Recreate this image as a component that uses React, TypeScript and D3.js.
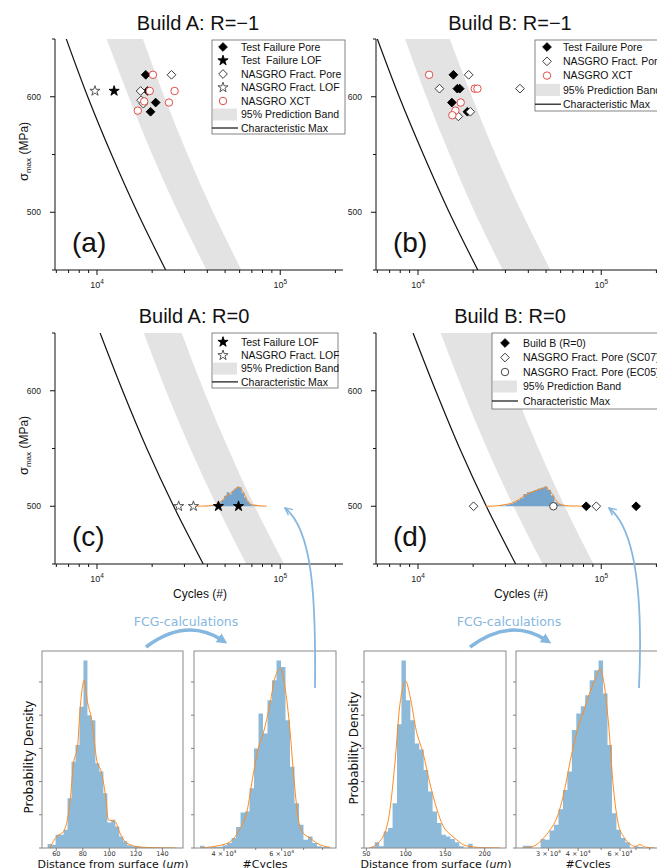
import React, { useEffect, useRef } from 'react';
import * as d3 from 'd3';

// stress levels at which bands / characteristic curves were read
const sigmaLevels = [650, 600, 550, 500, 450];

// Build A, R=-1
const bandLowA1 = [11300, 14900, 20000, 27700, 39600];
const bandHighA1 = [17800, 23300, 31200, 43000, 61400];
const charMaxA1 = [6800, 8900, 12000, 16600, 23700];
const testPoreA1 = [[18450, 619], [18900, 605], [20900, 595], [19600, 587]];
const testLofA1 = [[12400, 605]];
const nasgroPoreA1 = [[25500, 619], [17300, 605], [17400, 597], [17900, 594]];
const nasgroLofA1 = [[9750, 605]];
const xctA1 = [[20200, 619], [19400, 605], [26500, 605], [18100, 596], [24700, 595], [16700, 588]];

// Build B, R=-1
const bandLowB1 = [8500, 11100, 14900, 20400, 29000];
const bandHighB1 = [14900, 19700, 26500, 36800, 52800];
const charMaxB1 = [6000, 7900, 10700, 14800, 21200];
const testPoreB1 = [[15600, 619], [16400, 607], [16900, 607], [15300, 595], [18600, 587]];
const nasgroPoreB1 = [[18900, 619], [13100, 607], [36000, 607], [19300, 587], [16600, 583]];
const xctB1 = [[11500, 619], [20400, 607], [21100, 607], [17100, 595], [16000, 588], [15400, 584]];

// Build A, R=0
const bandLowA0 = [18000, 23800, 32300, 45200, 65300];
const bandHighA0 = [29000, 38300, 52000, 72500, 105000];
const charMaxA0 = [10400, 13800, 18700, 26200, 38000];
const testLofA0 = [[46000, 500], [59200, 500]];
const nasgroLofA0 = [[27900, 500], [33600, 500]];

// Build B, R=0
const bandLowB0 = [13300, 17600, 23800, 33200, 47900];
const bandHighB0 = [25600, 33700, 45400, 63100, 90600];
const charMaxB0 = [9400, 12500, 16900, 23600, 34100];
const buildB0 = [[82800, 500], [155000, 500]];
const nasgroSC07 = [[20100, 500], [94000, 500]];
const nasgroEC05 = [[54800, 500]];

// histograms (relative density), distance from surface in um, cycles binned in log10
const distA_start = 53.5;
const distA_width = 3;
const distA_counts = [12, 10, 40, 40, 55, 150, 260, 310, 425, 565, 400, 385, 255, 230, 165, 77, 85, 65, 35, 20, 8, 5, 6, 3, 2, 1, 1, 1, 0, 0, 1, 0, 1];
const distA_kdeX = [55, 60.5, 65.5, 70.5, 73, 76, 78, 81, 83.5, 86.75, 90.5, 94.25, 97.5, 99.25, 104.25, 108, 113, 123, 135, 150];
const distA_kdeY = [0, 35, 50, 145, 255, 305, 420, 505, 440, 385, 265, 225, 145, 85, 80, 45, 15, 3, 1, 0];

const cycA_logStart = 4.529;
const cycA_logWidth = 0.01373;
const cycA_counts = [7, 2, 2, 3, 4, 8, 15, 30, 63, 107, 110, 180, 300, 405, 345, 445, 505, 565, 545, 385, 245, 135, 70, 25, 35, 15, 5, 3, 2];
const cycA_kdeX = [33800, 40700, 44700, 46900, 49200, 50900, 52700, 55300, 57300, 59600, 61400, 63600, 65200, 67500, 69800, 73300, 76700, 84300];
const cycA_kdeY = [0, 13, 57, 105, 225, 300, 345, 435, 515, 540, 485, 355, 225, 85, 45, 30, 15, 2];

const distB_start = 55;
const distB_width = 5.64;
const distB_counts = [3, 17, 5, 50, 60, 135, 373, 565, 445, 385, 315, 297, 235, 170, 110, 75, 40, 35, 27, 17, 5, 0, 13];
const distB_kdeX = [53.4, 66.9, 77.5, 86, 92.4, 100, 105.1, 113.6, 122, 130.5, 139, 147.5, 155.9, 164.4, 172.9, 185.6, 198.3, 219.5];
const distB_kdeY = [0, 20, 80, 250, 430, 502, 460, 350, 285, 195, 120, 65, 42, 25, 10, 3, 1, 0];

const cycB_logStart = 4.369;
const cycB_logWidth = 0.01877;
const cycB_counts = [7, 7, 0, 0, 27, 25, 53, 70, 117, 175, 230, 355, 405, 427, 460, 505, 535, 565, 465, 310, 105, 55, 30, 17, 0, 5, 3];
const cycB_kdeX = [23400, 25900, 28600, 30500, 32500, 34700, 37000, 39500, 42100, 44900, 47900, 49400, 51000, 53600, 56300, 59100, 62000, 66100, 69400, 72800, 76400, 84200];
const cycB_kdeY = [0, 5, 30, 55, 90, 160, 260, 350, 410, 470, 520, 540, 510, 380, 180, 70, 35, 12, 5, 10, 3, 0];

const FONT = "'Liberation Sans', Arial, sans-serif";
const HFONT = "'DejaVu Sans', sans-serif";
const BAND = '#e3e3e3';
const HIST_BLUE = '#8ebad9';
const DIST_BLUE = '#74a3cb';
const ORANGE = '#ff8a1e';
const ARROW_BLUE = '#86b7df';
const RED = '#dd3a36';

// S-N panel frame (relative to panel origin)
const PL = 55, PR = 343, PT = 39, PB = 270;
const distHeight = 17; // MPa above the 500 MPa line for the tallest bin

const markerStyles = {
  diamondFilled: { shape: d3.symbolSquare, size: 38, rot: true, fill: '#000', stroke: '#000' },
  diamondOpen: { shape: d3.symbolSquare, size: 38, rot: true, fill: '#fff', stroke: '#333' },
  starFilled: { shape: d3.symbolStar, size: 32, rot: false, fill: '#000', stroke: '#000' },
  starOpen: { shape: d3.symbolStar, size: 32, rot: false, fill: '#fff', stroke: '#444' },
  circleRed: { shape: d3.symbolCircle, size: 44, rot: false, fill: '#fff', stroke: RED },
  circleOpen: { shape: d3.symbolCircle, size: 44, rot: false, fill: '#fff', stroke: '#333' },
};

function drawSymbol(sel, type, cx, cy) {
  const st = markerStyles[type];
  sel.append('path')
    .attr('d', d3.symbol(st.shape, st.size)())
    .attr('transform', `translate(${cx},${cy})${st.rot ? ' rotate(45)' : ''}`)
    .attr('fill', st.fill)
    .attr('stroke', st.stroke)
    .attr('stroke-width', 0.9);
}

const makeBins = (start, width, counts, log) =>
  counts.map((c, i) => ({
    a: log ? Math.pow(10, start + i * width) : start + i * width,
    b: log ? Math.pow(10, start + (i + 1) * width) : start + (i + 1) * width,
    c,
  }));

const panels = [
  {
    id: 'a', dx: 0, dy: 0, title: 'Build A: R=\u22121', titleX: 198, titleY: 30, tag: '(a)',
    yLabel: true, xLabel: false,
    low: bandLowA1, high: bandHighA1, charMax: charMaxA1,
    series: [
      { pts: testPoreA1, type: 'diamondFilled' },
      { pts: testLofA1, type: 'starFilled' },
      { pts: nasgroPoreA1, type: 'diamondOpen' },
      { pts: nasgroLofA1, type: 'starOpen' },
      { pts: xctA1, type: 'circleRed' },
    ],
    legend: {
      x: 212, y: 40, w: 133, h: 94, row0: 47, step: 13.5, symX: 223, textX: 241,
      items: [
        ['diamondFilled', 'Test Failure Pore'], ['starFilled', 'Test  Failure LOF'],
        ['diamondOpen', 'NASGRO Fract. Pore'], ['starOpen', 'NASGRO Fract. LOF'],
        ['circleRed', 'NASGRO XCT'], ['band', '95% Prediction Band'], ['line', 'Characteristic Max'],
      ],
    },
  },
  {
    id: 'b', dx: 321, dy: 0, title: 'Build B: R=\u22121', titleX: 189, titleY: 30, tag: '(b)',
    yLabel: false, xLabel: false,
    low: bandLowB1, high: bandHighB1, charMax: charMaxB1,
    series: [
      { pts: testPoreB1, type: 'diamondFilled' },
      { pts: nasgroPoreB1, type: 'diamondOpen' },
      { pts: xctB1, type: 'circleRed' },
    ],
    legend: {
      x: 214, y: 40, w: 200, h: 71, row0: 47, step: 14.3, symX: 226, textX: 242,
      items: [
        ['diamondFilled', 'Test Failure Pore'], ['diamondOpen', 'NASGRO Fract. Pore'],
        ['circleRed', 'NASGRO XCT'], ['band', '95% Prediction Band'], ['line', 'Characteristic Max'],
      ],
    },
  },
  {
    id: 'c', dx: 0, dy: 294, title: 'Build A: R=0', titleX: 194, titleY: 29, tag: '(c)',
    yLabel: true, xLabel: true,
    low: bandLowA0, high: bandHighA0, charMax: charMaxA0,
    dist: { bins: makeBins(cycA_logStart, cycA_logWidth, cycA_counts, true), kdeX: cycA_kdeX, kdeY: cycA_kdeY },
    series: [
      { pts: nasgroLofA0, type: 'starOpen' },
      { pts: testLofA0, type: 'starFilled' },
    ],
    legend: {
      x: 212, y: 39, w: 126, h: 55, row0: 48, step: 13.3, symX: 223, textX: 241,
      items: [
        ['starFilled', 'Test Failure LOF'], ['starOpen', 'NASGRO Fract. LOF'],
        ['band', '95% Prediction Band'], ['line', 'Characteristic Max'],
      ],
    },
  },
  {
    id: 'd', dx: 321, dy: 294, title: 'Build B: R=0', titleX: 189, titleY: 29, tag: '(d)',
    yLabel: false, xLabel: true,
    low: bandLowB0, high: bandHighB0, charMax: charMaxB0,
    dist: { bins: makeBins(cycB_logStart, cycB_logWidth, cycB_counts, true), kdeX: cycB_kdeX, kdeY: cycB_kdeY },
    series: [
      { pts: nasgroSC07, type: 'diamondOpen' },
      { pts: nasgroEC05, type: 'circleOpen' },
      { pts: buildB0, type: 'diamondFilled' },
    ],
    legend: {
      x: 171, y: 39, w: 200, h: 76, row0: 49, step: 14.5, symX: 184, textX: 202,
      items: [
        ['diamondFilled', 'Build B (R=0)'], ['diamondOpen', 'NASGRO Fract. Pore (SC07)'],
        ['circleOpen', 'NASGRO Fract. Pore (EC05)'], ['band', '95% Prediction Band'], ['line', 'Characteristic Max'],
      ],
    },
  },
];

const hists = [
  {
    id: 'h1', x0: 42, x1: 183, log: false, domain: [49.25, 155.5],
    bins: makeBins(distA_start, distA_width, distA_counts, false), kdeX: distA_kdeX, kdeY: distA_kdeY,
    ticks: [60, 80, 100, 120, 140], labelTicks: [60, 80, 100, 120, 140],
    xLabel: 'dist', yLabel: { x: 33, y: 757 }, xLabelX: 113,
  },
  {
    id: 'h2', x0: 194, x1: 336, log: true, domain: [32400, 87900],
    bins: makeBins(cycA_logStart, cycA_logWidth, cycA_counts, true), kdeX: cycA_kdeX, kdeY: cycA_kdeY,
    ticks: [40000, 50000, 60000, 70000, 80000], labelTicks: [40000, 60000],
    xLabel: 'cycles', yLabel: null, xLabelX: 265,
  },
  {
    id: 'h3', x0: 364, x1: 506, log: false, domain: [47, 227],
    bins: makeBins(distB_start, distB_width, distB_counts, false), kdeX: distB_kdeX, kdeY: distB_kdeY,
    ticks: [50, 100, 150, 200], labelTicks: [50, 100, 150, 200],
    xLabel: 'dist', yLabel: { x: 358, y: 748 }, xLabelX: 436,
  },
  {
    id: 'h4', x0: 516, x1: 658, log: true, domain: [21900, 86700],
    bins: makeBins(cycB_logStart, cycB_logWidth, cycB_counts, true), kdeX: cycB_kdeX, kdeY: cycB_kdeY,
    ticks: [30000, 40000, 50000, 60000, 70000, 80000], labelTicks: [30000, 40000, 60000],
    xLabel: 'cycles', yLabel: null, xLabelX: 588,
  },
];

const HT = 651, HB = 848;

function drawPanel(svg, p) {
  const g = svg.append('g').attr('transform', `translate(${p.dx},${p.dy})`).style('font-family', FONT);
  const x = d3.scaleLog().domain([5900, 220000]).range([PL, PR]);
  const y = d3.scaleLinear().domain([450, 650]).range([PB, PT]);

  const clipId = `clip-${p.id}`;
  g.append('clipPath').attr('id', clipId)
    .append('rect').attr('x', PL).attr('y', PT).attr('width', PR - PL).attr('height', PB - PT);
  const plot = g.append('g').attr('clip-path', `url(#${clipId})`);

  const band = sigmaLevels.map((s, i) => ({ s, lo: p.low[i], hi: p.high[i] }));
  plot.append('path').datum(band)
    .attr('d', d3.area().y(d => y(d.s)).x0(d => x(d.lo)).x1(d => x(d.hi)).curve(d3.curveMonotoneY))
    .attr('fill', BAND);

  const cm = sigmaLevels.map((s, i) => ({ s, n: p.charMax[i] }));
  plot.append('path').datum(cm)
    .attr('d', d3.line().x(d => x(d.n)).y(d => y(d.s)).curve(d3.curveMonotoneY))
    .attr('fill', 'none').attr('stroke', '#111').attr('stroke-width', 1.2);

  if (p.dist) {
    const maxC = d3.max(p.dist.bins, b => b.c);
    const sy = v => y(500 + (v / maxC) * distHeight);
    const steps = p.dist.bins.flatMap(b => [[b.a, b.c], [b.b, b.c]]);
    plot.append('path').datum(steps)
      .attr('d', d3.area().x(d => x(d[0])).y0(y(500)).y1(d => sy(d[1])))
      .attr('fill', DIST_BLUE);
    const kde = p.dist.kdeX.map((v, i) => [v, p.dist.kdeY[i]]);
    plot.append('path').datum(kde)
      .attr('d', d3.line().x(d => x(d[0])).y(d => sy(d[1])).curve(d3.curveMonotoneX))
      .attr('fill', 'none').attr('stroke', ORANGE).attr('stroke-width', 1);
  }

  p.series.forEach(s => {
    s.pts.forEach(pt => drawSymbol(plot, s.type, x(pt[0]), y(pt[1])));
  });

  // axes
  const ax = g.append('g').attr('stroke', '#111').attr('stroke-width', 1);
  ax.append('line').attr('x1', PL).attr('x2', PL).attr('y1', PT).attr('y2', PB);
  ax.append('line').attr('x1', PL).attr('x2', PR).attr('y1', PB).attr('y2', PB);
  const minorX = [6000, 7000, 8000, 9000, 20000, 30000, 40000, 50000, 60000, 70000, 80000, 90000, 200000];
  minorX.forEach(v => ax.append('line').attr('x1', x(v)).attr('x2', x(v)).attr('y1', PB).attr('y2', PB + 3));
  [10000, 100000].forEach(v => {
    ax.append('line').attr('x1', x(v)).attr('x2', x(v)).attr('y1', PB).attr('y2', PB + 5);
    const t = g.append('text').attr('x', x(v)).attr('y', PB + 18).attr('text-anchor', 'middle')
      .attr('font-size', 9).attr('fill', '#222');
    t.append('tspan').text('10');
    t.append('tspan').attr('font-size', 6.5).attr('dy', -4).text(String(Math.round(Math.log10(v))));
  });
  [450, 550, 650].forEach(v => ax.append('line').attr('x1', PL - 3).attr('x2', PL).attr('y1', y(v)).attr('y2', y(v)));
  [500, 600].forEach(v => {
    ax.append('line').attr('x1', PL - 5).attr('x2', PL).attr('y1', y(v)).attr('y2', y(v));
    g.append('text').attr('x', PL - 14).attr('y', y(v)).attr('dy', '0.35em').attr('text-anchor', 'end')
      .attr('font-size', 8.5).attr('fill', '#222').text(v);
  });

  if (p.yLabel) {
    const t = g.append('text').attr('transform', `translate(28,${(PT + PB) / 2 - 3}) rotate(-90)`)
      .attr('text-anchor', 'middle').attr('font-size', 12).attr('fill', '#111');
    t.append('tspan').attr('font-size', 13).text('\u03c3');
    t.append('tspan').attr('font-size', 8).attr('dy', 3).text('max');
    t.append('tspan').attr('dy', -3).text(' (MPa)');
  }
  if (p.xLabel) {
    g.append('text').attr('x', 200).attr('y', PB + 34).attr('text-anchor', 'middle')
      .attr('font-size', 12).attr('fill', '#111').text('Cycles (#)');
  }

  g.append('text').attr('x', p.titleX).attr('y', p.titleY).attr('text-anchor', 'middle')
    .attr('font-size', 20).attr('fill', '#111').text(p.title);
  g.append('text').attr('x', 72).attr('y', 252).attr('font-size', 28).attr('fill', '#111').text(p.tag);

  // legend
  const L = p.legend;
  const lclip = `lclip-${p.id}`;
  g.append('clipPath').attr('id', lclip)
    .append('rect').attr('x', L.x - 1).attr('y', L.y - 1).attr('width', L.w + 2).attr('height', L.h + 2);
  const lg = g.append('g').attr('clip-path', `url(#${lclip})`);
  lg.append('rect').attr('x', L.x).attr('y', L.y).attr('width', L.w).attr('height', L.h)
    .attr('fill', '#fff').attr('stroke', '#666').attr('stroke-width', 0.8);
  L.items.forEach(([type, label], i) => {
    const ry = L.row0 + i * L.step;
    if (type === 'band') {
      lg.append('rect').attr('x', L.x + 1).attr('y', ry - 6).attr('width', 24).attr('height', 12).attr('fill', BAND);
    } else if (type === 'line') {
      lg.append('line').attr('x1', L.x).attr('x2', L.x + 26).attr('y1', ry).attr('y2', ry)
        .attr('stroke', '#111').attr('stroke-width', 1.2);
    } else {
      drawSymbol(lg, type, L.symX, ry);
    }
    lg.append('text').attr('x', L.textX).attr('y', ry).attr('dy', '0.36em')
      .attr('font-size', 10.5).attr('fill', '#111').style('white-space', 'pre').text(label);
  });
}

function drawHist(svg, h) {
  const g = svg.append('g').style('font-family', HFONT);
  const x = (h.log ? d3.scaleLog() : d3.scaleLinear()).domain(h.domain).range([h.x0, h.x1]);
  const maxC = d3.max(h.bins, b => b.c);
  const y = d3.scaleLinear().domain([0, maxC * 1.05]).range([HB, HT]);

  const clipId = `clip-${h.id}`;
  g.append('clipPath').attr('id', clipId)
    .append('rect').attr('x', h.x0).attr('y', HT).attr('width', h.x1 - h.x0).attr('height', HB - HT);
  const plot = g.append('g').attr('clip-path', `url(#${clipId})`);

  const steps = h.bins.flatMap(b => [[b.a, b.c], [b.b, b.c]]);
  plot.append('path').datum(steps)
    .attr('d', d3.area().x(d => x(d[0])).y0(y(0)).y1(d => y(d[1])))
    .attr('fill', HIST_BLUE);
  const kde = h.kdeX.map((v, i) => [v, h.kdeY[i]]);
  plot.append('path').datum(kde)
    .attr('d', d3.line().x(d => x(d[0])).y(d => y(d[1])).curve(d3.curveMonotoneX))
    .attr('fill', 'none').attr('stroke', ORANGE).attr('stroke-width', 1);

  g.append('rect').attr('x', h.x0).attr('y', HT).attr('width', h.x1 - h.x0).attr('height', HB - HT)
    .attr('fill', 'none').attr('stroke', '#8a8a8a').attr('stroke-width', 1);

  y.ticks(5).forEach(v => g.append('line').attr('x1', h.x0 - 3).attr('x2', h.x0).attr('y1', y(v)).attr('y2', y(v))
    .attr('stroke', '#666').attr('stroke-width', 0.8));
  h.ticks.forEach(v => g.append('line').attr('x1', x(v)).attr('x2', x(v)).attr('y1', HB).attr('y2', HB + (h.labelTicks.includes(v) ? 3 : 2))
    .attr('stroke', '#666').attr('stroke-width', 0.8));
  h.labelTicks.forEach(v => {
    const t = g.append('text').attr('x', x(v)).attr('y', HB + 8).attr('text-anchor', 'middle')
      .attr('font-size', 6.5).attr('fill', '#333');
    if (h.log) {
      const e = Math.floor(Math.log10(v));
      const m = Math.round(v / Math.pow(10, e));
      t.append('tspan').text(`${m} \u00d7 10`);
      t.append('tspan').attr('font-size', 4.5).attr('dy', -3).text(String(e));
    } else {
      t.text(v);
    }
  });

  const xl = g.append('text').attr('x', h.xLabelX).attr('y', 868).attr('text-anchor', 'middle')
    .attr('font-size', 11).attr('fill', '#111');
  if (h.xLabel === 'dist') {
    xl.append('tspan').text('Distance from surface (');
    xl.append('tspan').attr('font-style', 'italic').text('um');
    xl.append('tspan').text(')');
  } else {
    xl.text('#Cycles');
  }
  if (h.yLabel) {
    g.append('text').attr('transform', `translate(${h.yLabel.x},${h.yLabel.y}) rotate(-90)`)
      .attr('text-anchor', 'middle').attr('font-size', 12).attr('fill', '#111').text('Probability Density');
  }
}

const App = () => {
  const ref = useRef(null);

  useEffect(() => {
    const svg = d3.select(ref.current);
    svg.selectAll('*').remove();
    svg.append('rect').attr('width', 657).attr('height', 868).attr('fill', '#fff');

    const defs = svg.append('defs');
    defs.append('marker').attr('id', 'headFill').attr('viewBox', '0 0 10 10').attr('refX', 4).attr('refY', 5)
      .attr('markerWidth', 3).attr('markerHeight', 3).attr('orient', 'auto')
      .append('path').attr('d', 'M0,0 L10,5 L0,10 z').attr('fill', ARROW_BLUE);
    defs.append('marker').attr('id', 'headOpen').attr('viewBox', '0 0 10 10').attr('refX', 9).attr('refY', 5)
      .attr('markerWidth', 5).attr('markerHeight', 5).attr('orient', 'auto')
      .append('path').attr('d', 'M1,1 L9,5 L1,9').attr('fill', 'none').attr('stroke', ARROW_BLUE).attr('stroke-width', 1.6);

    panels.forEach(p => drawPanel(svg, p));
    hists.forEach(h => drawHist(svg, h));

    // annotations
    const ann = svg.append('g').style('font-family', HFONT);
    [186, 509].forEach(cx => ann.append('text').attr('x', cx).attr('y', 626).attr('text-anchor', 'middle')
      .attr('font-size', 12.5).attr('fill', ARROW_BLUE).text('FCG-calculations'));
    ann.append('path').attr('d', 'M146,647 Q186,617 222,640').attr('fill', 'none')
      .attr('stroke', ARROW_BLUE).attr('stroke-width', 3.5).attr('marker-end', 'url(#headFill)');
    ann.append('path').attr('d', 'M470,647 Q510,617 546,640').attr('fill', 'none')
      .attr('stroke', ARROW_BLUE).attr('stroke-width', 3.5).attr('marker-end', 'url(#headFill)');
    ann.append('path').attr('d', 'M315,688 C316,600 313,530 285,508').attr('fill', 'none')
      .attr('stroke', ARROW_BLUE).attr('stroke-width', 1.8).attr('marker-end', 'url(#headOpen)');
    ann.append('path').attr('d', 'M639,688 C643,600 637,530 609,508').attr('fill', 'none')
      .attr('stroke', ARROW_BLUE).attr('stroke-width', 1.8).attr('marker-end', 'url(#headOpen)');
  }, []);

  return (
    <svg ref={ref} width={657} height={868}
      style={{ position: 'absolute', left: 0, top: 0, display: 'block', background: '#fff' }} />
  );
};

export default App;
